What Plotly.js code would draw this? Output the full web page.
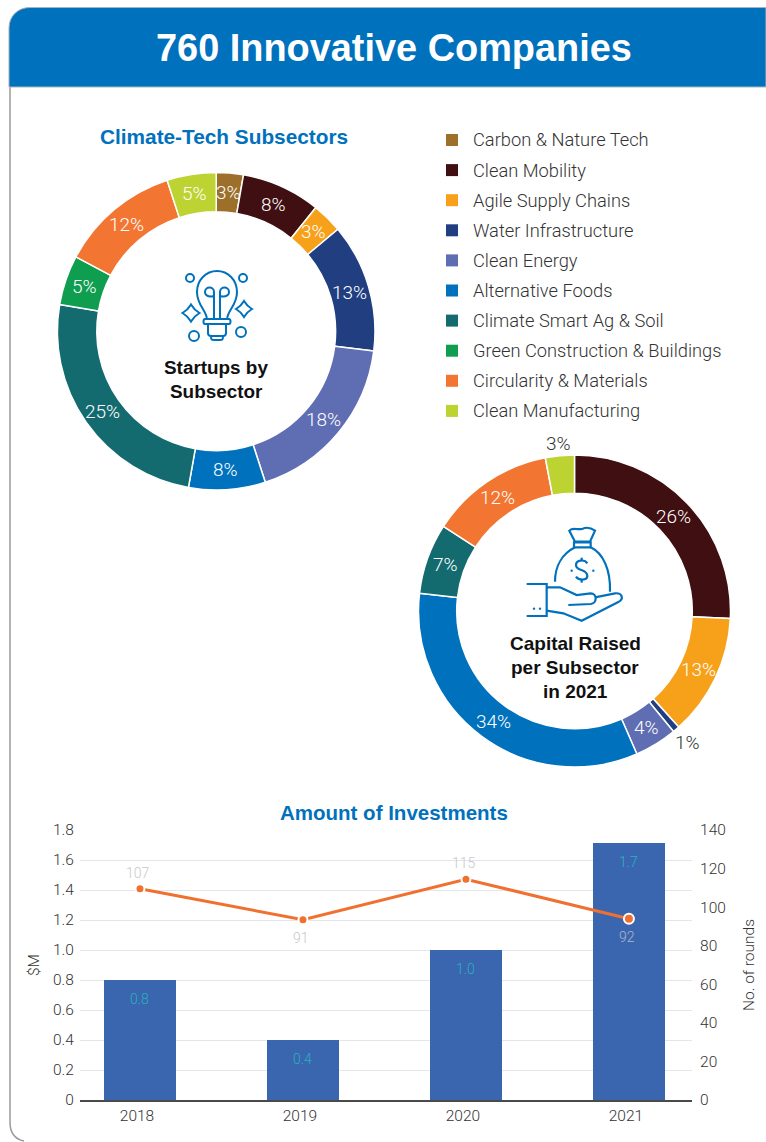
<!DOCTYPE html>
<html>
<head>
<meta charset="utf-8">
<script src="https://cdn.plot.ly/plotly-3.0.1.min.js"></script>
<style>html,body{margin:0;padding:0;background:#fff;overflow:hidden}#chart{width:766px;height:1142px}</style>
</head>
<body>
<div id="chart"></div>
<script>
// ---- data ----
const categories = ['Carbon & Nature Tech','Clean Mobility','Agile Supply Chains','Water Infrastructure','Clean Energy','Alternative Foods','Climate Smart Ag & Soil','Green Construction & Buildings','Circularity & Materials','Clean Manufacturing'];
const categoryColors = ['#9C6F2B','#3F0F11','#F7A11B','#213F80','#5F6DB3','#0071BC','#136B70','#0F9D50','#F27632','#BCD331'];
const startupShare = [2.75,8.05,3.1,13.1,18,7.8,24.9,5.05,12.25,5];
const startupLabels = ['3%','8%','3%','13%','18%','8%','25%','5%','12%','5%'];
const capitalCategories = ['Clean Mobility','Agile Supply Chains','Water Infrastructure','Clean Energy','Alternative Foods','Climate Smart Ag & Soil','Circularity & Materials','Clean Manufacturing'];
const capitalShare = [25.8,12.6,0.7,4.4,33.4,7.3,12.9,3];
const capitalLabels = ['26%','13%','1%','4%','34%','7%','12%','3%'];
const years = ['2018','2019','2020','2021'];
const investment = [0.8,0.4,1.0,1.715];
const investmentLabels = ['0.8','0.4','1.0','1.7'];
const roundsDrawn = [109.5,93.5,114.5,94];
const roundsLabels = ['107','91','115','92'];
const leftTicks = [0,0.2,0.4,0.6,0.8,1.0,1.2,1.4,1.6,1.8];
const leftTickText = ['0','0.2','0.4','0.6','0.8','1.0','1.2','1.4','1.6','1.8'];
const rightTicks = [0,20,40,60,80,100,120,140];

// ---- helpers ----
const W = 766, H = 1142;
const BLUE = '#0071BC';
const BOLD = 'Liberation Sans';
const LIGHT = 'Roboto';
const px = x => x / W;
const py = y => 1 - y / H;
const colorOf = c => categoryColors[categories.indexOf(c)];
const xd = (a, b) => [px(a), px(b)];
const yd = (top, bottom) => [py(bottom), py(top)];

function paperPath(d) {
  let isX = true;
  return d.replace(/-?\d+(\.\d+)?/g, n => {
    const v = isX ? px(+n) : py(+n);
    isX = !isX;
    return v.toFixed(6);
  });
}
function at(ox, oy, s, d) {
  let isX = true;
  const out = d.replace(/-?\d+(\.\d+)?/g, n => {
    const v = isX ? ox + (+n) / s : oy + (+n) / s;
    isX = !isX;
    return v.toFixed(2);
  });
  return paperPath(out);
}
const stroke = (d, w) => ({type:'path', xref:'paper', yref:'paper', path:d, line:{color:BLUE, width:w||2}, fillcolor:'rgba(0,0,0,0)', layer:'above'});
const circle = (cx, cy, r) => ({type:'circle', xref:'paper', yref:'paper', x0:px(cx-r), x1:px(cx+r), y0:py(cy+r), y1:py(cy-r), line:{color:BLUE, width:2}, fillcolor:'rgba(0,0,0,0)', layer:'above'});
const dot = (cx, cy, r) => ({type:'circle', xref:'paper', yref:'paper', x0:px(cx-r), x1:px(cx+r), y0:py(cy+r), y1:py(cy-r), line:{width:0}, fillcolor:BLUE, layer:'above'});
const star = (cx, cy, r) => {
  const a = 0.32 * r, b = 0.45 * r;
  return `M ${cx} ${cy-r} C ${cx+a} ${cy-b} ${cx+b} ${cy-a} ${cx+r} ${cy} C ${cx+b} ${cy+a} ${cx+a} ${cy+b} ${cx} ${cy+r} C ${cx-a} ${cy+b} ${cx-b} ${cy+a} ${cx-r} ${cy} C ${cx-b} ${cy-a} ${cx-a} ${cy-b} ${cx} ${cy-r} Z`;
};
const label = (text, x, y, size, color, family, weight, extra) => Object.assign({
  text, xref:'paper', yref:'paper', x:px(x), y:py(y), xanchor:'center', yanchor:'middle', showarrow:false,
  font:{family, size, color, weight}
}, extra || {});

// ---- traces ----
const donut = (labels, values, hole, domain) => ({type:'pie', sort:false, direction:'clockwise', rotation:0, showlegend:false,
  labels, values, hole, domain, textinfo:'none', hoverinfo:'label+percent',
  marker:{colors:labels.map(colorOf), line:{color:'#fff', width:1.5}}});
const startupPie = donut(categories, startupShare, 0.752, {x:xd(57.4,375), y:yd(172.4,490)});
const capitalPie = donut(capitalCategories, capitalShare, 0.755, {x:xd(418.5,730.5), y:yd(455,767)});
const bars = {type:'bar', x:years, y:investment, width:0.44, marker:{color:'#3A66B0'}, xaxis:'x', yaxis:'y', showlegend:false, name:'$M', hovertemplate:'%{x}: %{y}<extra></extra>'};
const line = {type:'scatter', mode:'lines+markers', x:years, y:roundsDrawn,
  line:{color:'#F07030', width:3},
  marker:{color:'#F07030', opacity:1, size:[9,9,9,10], line:{color:'#fff', width:2}},
  xaxis:'x', yaxis:'y2', showlegend:false, name:'No. of rounds', cliponaxis:false};

// ---- decoration ----
const shapes = [
  {type:'path', xref:'paper', yref:'paper', layer:'below', line:{color:'#9A9A9A', width:1.5}, fillcolor:'rgba(0,0,0,0)',
   path:paperPath('M 10 87 L 10 1122 C 10 1132 14 1139 24 1141')},
  {type:'path', xref:'paper', yref:'paper', layer:'below', line:{color:'#A8B4BE', width:1}, fillcolor:BLUE,
   path:paperPath('M 9 87 L 9 28 C 9 16 18 7.5 30 7.5 L 766 7.5 L 766 87 Z')},
  // light-bulb icon
  stroke(paperPath('M 207 320 C 207 310 197 306 197 292 C 197 280 206 271 217 271 C 228 271 237 280 237 292 C 237 306 227 310 227 320')),
  stroke(paperPath('M 214 320 L 214 292 C 214 286 205 286 205 292 C 205 297 212 297 214 296')),
  stroke(paperPath('M 220 320 L 220 292 C 220 286 229 286 229 292 C 229 297 222 297 220 296')),
  stroke(paperPath('M 205 319 L 229 319 C 231 319 231 324 229 324 L 205 324 C 203 324 203 319 205 319 Z')),
  stroke(paperPath('M 208 324 L 208 333 C 208 335 209 336 211 336 L 223 336 C 225 336 226 335 226 333 L 226 324')),
  stroke(paperPath('M 211 336 C 211 340 212 340 214 340 L 220 340 C 222 340 223 340 223 336')),
  circle(190,278,4), circle(243,278,4), circle(194,336,5), circle(241,332,5),
  stroke(paperPath(star(191,313,8.5))), stroke(paperPath(star(244,309,8))),
  // money-bag icon
  stroke(at(500,510,3,'M 225 95 L 208 62 C 220 50 230 62 248 56 C 262 50 275 55 285 62 L 270 95 Z'),2.2),
  stroke(at(500,510,3,'M 222 97 L 272 97 L 272 112 L 222 112 Z'),2.2),
  stroke(at(500,510,3,'M 225 112 C 190 130 165 165 165 215'),2.2),
  stroke(at(500,510,3,'M 272 112 C 310 130 332 180 330 245'),2.2),
  stroke(at(500,510,3,'M 262 160 C 255 148 228 148 228 165 C 228 185 262 175 262 198 C 262 212 235 212 228 200'),2.2),
  stroke(at(500,510,3,'M 245 143 L 245 150'),2.2), stroke(at(500,510,3,'M 245 210 L 245 218'),2.2),
  dot(500+215/3,510+182/3,1.2), dot(500+280/3,510+182/3,1.2),
  stroke(at(500,510,3,'M 80 222 L 140 222 L 140 318 L 80 318'),2.2),
  dot(500+102/3,510+296/3,1.2), dot(500+120/3,510+296/3,1.2),
  stroke(at(500,510,3,'M 140 232 L 180 232 L 230 255 L 272 250 C 292 250 292 280 272 282 L 205 285'),2.2),
  stroke(at(500,510,3,'M 285 262 L 345 250 C 368 248 372 268 355 276 L 245 332 L 190 310 L 140 302'),2.2),
];

const legendTop = 140, legendStep = 30.1;
categories.forEach((c, i) => {
  const y = legendTop + i * legendStep;
  shapes.push({type:'rect', xref:'paper', yref:'paper', x0:px(446), x1:px(458), y0:py(y+6), y1:py(y-6), fillcolor:categoryColors[i], line:{width:0}, layer:'above'});
});

const annotations = [
  label('760 Innovative Companies', 393.5, 48, 37.9, '#fff', BOLD, 700),
  label('Climate-Tech Subsectors', 223.5, 137, 20.8, BLUE, BOLD, 700),
  label('Startups by', 216, 368, 18.9, '#111', BOLD, 700),
  label('Subsector', 216, 391, 18.9, '#111', BOLD, 700),
  label('Capital Raised', 575, 643, 19, '#111', BOLD, 700),
  label('per Subsector', 575, 667, 19, '#111', BOLD, 700),
  label('in 2021', 575, 691, 19, '#111', BOLD, 700),
  label('Amount of Investments', 393.5, 812.5, 20.5, BLUE, BOLD, 700),
];
categories.forEach((c, i) => {
  annotations.push(label(c, 471, legendTop + i * legendStep, 18.3, '#333', LIGHT, 300, {xanchor:'left'}));
});

// slice labels sit at each slice's mid-angle, worked out from the values
function sliceLabels(values, texts, cx, cy, radiusOf, colorFor) {
  const total = values.reduce((a, b) => a + b, 0);
  let cum = 0;
  values.forEach((v, i) => {
    const a = (cum + v / 2) / total * 2 * Math.PI;
    cum += v;
    const r = radiusOf(i);
    annotations.push(label(texts[i], cx + r * Math.sin(a), cy - r * Math.cos(a), 19, colorFor(i), LIGHT, 300));
  });
}
sliceLabels(startupShare, startupLabels, 216.2, 331.2, () => 139, () => '#fff');
const outsideRadius = {2:173, 7:168};
sliceLabels(capitalShare, capitalLabels, 574.5, 611, i => outsideRadius[i] || 137, i => outsideRadius[i] ? '#333' : '#fff');

years.forEach((yr, i) => {
  annotations.push({text:investmentLabels[i], xref:'x', yref:'y', x:i, y:investment[i], yshift:-19, yanchor:'middle', xanchor:'center', showarrow:false,
    font:{family:LIGHT, size:14, color:'#2AB0BC', weight:300}});
  const above = i % 2 === 0;
  annotations.push({text:roundsLabels[i], xref:'x', yref:'y2', x:i, y:roundsDrawn[i], xshift:-1.5, yshift:above ? 16 : -18, yanchor:'middle', xanchor:'center', showarrow:false,
    font:{family:LIGHT, size:14, color:i === 3 ? '#AEB6C6' : '#C9C9C9', weight:300}});
});

const tickFont = {family:LIGHT, size:15.5, color:'#333', weight:300};
const layout = {
  width:W, height:H, margin:{l:0,r:0,t:0,b:0}, paper_bgcolor:'#fff', plot_bgcolor:'rgba(0,0,0,0)',
  showlegend:false, bargap:0,
  xaxis:{domain:xd(80,692), type:'category', range:[-0.368,3.387], showgrid:false, zeroline:false, showline:true, linecolor:'#4A4A4A', linewidth:1.5,
    ticks:'outside', ticklen:1, tickcolor:'rgba(0,0,0,0)', tickfont:tickFont, ticklabelshift:-3, fixedrange:true, anchor:'y'},
  yaxis:{domain:yd(830,1100), range:[0,1.8], tickmode:'array', tickvals:leftTicks, ticktext:leftTickText, showgrid:true, gridcolor:'#E4E6EB', gridwidth:1, zeroline:false,
    ticks:'outside', ticklen:2, tickcolor:'rgba(0,0,0,0)', tickfont:tickFont, fixedrange:true,
    title:{text:'$M', font:tickFont, standoff:9}},
  yaxis2:{domain:yd(830,1100), range:[0,140], overlaying:'y', side:'right', tickmode:'array', tickvals:rightTicks, showgrid:false, zeroline:false,
    ticks:'outside', ticklen:4, tickcolor:'rgba(0,0,0,0)', tickfont:tickFont, fixedrange:true,
    title:{text:'No. of rounds', font:tickFont, standoff:18}},
  shapes, annotations
};
Plotly.newPlot('chart', [startupPie, capitalPie, bars, line], layout, {displayModeBar:false, staticPlot:true});
</script>
</body>
</html>
